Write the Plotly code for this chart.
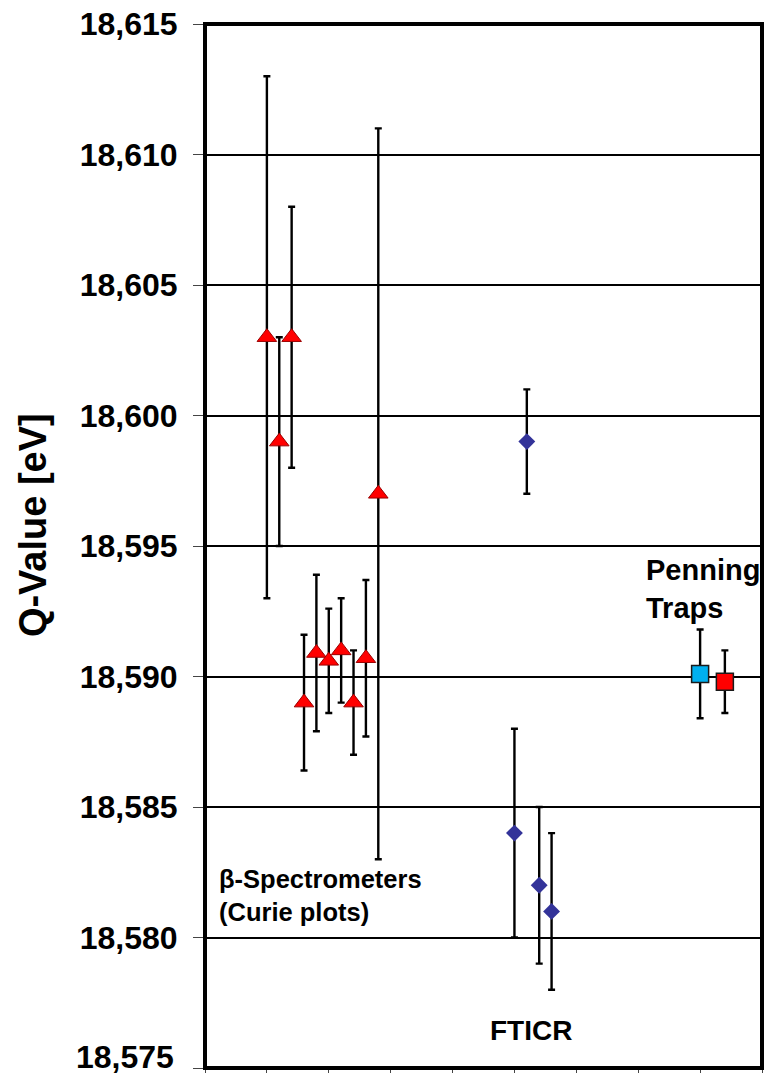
import plotly.graph_objects as go

# beta-spectrometer (Curie plot) results
beta_x = [1.0, 1.2, 1.4, 1.6, 1.8, 2.0, 2.2, 2.4, 2.6, 2.8]
beta_q = [18603.0, 18599.0, 18603.0, 18589.0, 18590.9, 18590.6, 18591.0, 18589.0, 18590.7, 18597.0]
beta_err = [10.0, 4.0, 5.0, 2.6, 3.0, 2.0, 2.0, 2.0, 3.0, 14.0]

# FTICR results
fticr_x = [5.0, 5.2, 5.4, 5.6]
fticr_q = [18584.0, 18599.0, 18582.0, 18581.0]
fticr_err = [4.0, 2.0, 3.0, 3.0]

# Penning trap results
penning_x = [8.0, 8.4]
penning_q = [18590.1, 18589.8]
penning_err = [1.7, 1.2]
penning_colors = ["#00B0F0", "#FF0000"]

y_ticks = [18575, 18580, 18585, 18590, 18595, 18600, 18605, 18610, 18615]
y_min, y_max = y_ticks[0], y_ticks[-1]

FONT = "Arial, Liberation Sans, sans-serif"

def bold(size):
    return dict(family=FONT, size=size, color="black", weight="bold")

def err(values):
    return dict(type="data", array=values, visible=True,
                color="black", thickness=2.4, width=3.5)

fig = go.Figure()

fig.add_trace(go.Scatter(
    x=beta_x, y=beta_q, mode="markers", error_y=err(beta_err),
    marker=dict(symbol="triangle-up", size=17, color="#FF0000",
                line=dict(color="#990000", width=1)),
    showlegend=False))

fig.add_trace(go.Scatter(
    x=fticr_x, y=fticr_q, mode="markers", error_y=err(fticr_err),
    marker=dict(symbol="diamond", size=13, color="#333399",
                line=dict(color="#333399", width=0)),
    showlegend=False))

fig.add_trace(go.Scatter(
    x=penning_x, y=penning_q, mode="markers", error_y=err(penning_err),
    marker=dict(symbol="square", size=17, color=penning_colors,
                line=dict(color="#1a1a1a", width=1.5)),
    showlegend=False))

fig.update_xaxes(
    range=[0, 9], tickvals=list(range(10)), showticklabels=False,
    ticks="outside", ticklen=4, tickwidth=1, tickcolor="#444",
    showgrid=False, zeroline=False, showline=False, automargin=False)

# the lowest label is lifted to stay inside the page, so it is drawn separately
fig.update_yaxes(
    range=[y_min, y_max], tickvals=y_ticks,
    ticktext=["" if v == y_min else f"{v:,}" for v in y_ticks],
    ticks="outside", ticklen=11, tickwidth=1, tickcolor="#444",
    ticklabelstandoff=9, ticklabeloverflow="allow", automargin=False,
    tickfont=bold(32),
    showgrid=True, gridcolor="black", gridwidth=2,
    zeroline=False, showline=False)

fig.add_annotation(xref="paper", yref="paper", x=0, y=0, xshift=-29, yshift=11,
                   text=f"{y_min:,}", showarrow=False,
                   xanchor="right", yanchor="middle", font=bold(32))

# plot-area frame
fig.add_shape(type="rect", xref="paper", yref="paper", x0=0, x1=1, y0=0, y1=1,
              line=dict(color="black", width=4), layer="above")

fig.add_annotation(x=0.2, y=18581.6, text="β-Spectrometers<br>(Curie plots)",
                   showarrow=False, xanchor="left", align="left", font=bold(25.5))
fig.add_annotation(x=5.27, y=18576.45, text="FTICR",
                   showarrow=False, xanchor="center", font=bold(28))
fig.add_annotation(x=7.09, y=18593.35, text="Penning<br>Traps",
                   showarrow=False, xanchor="left", align="left", font=bold(29))

# y-axis title
fig.add_annotation(xref="paper", yref="paper", x=0, y=0.52, xshift=-172,
                   text="Q-Value [eV]", textangle=-90, showarrow=False,
                   xanchor="center", yanchor="middle", font=bold(38))

fig.update_layout(
    width=765, height=1083,
    margin=dict(l=205, r=3, t=24, b=15, autoexpand=False),
    paper_bgcolor="white", plot_bgcolor="white")

fig.write_html("out.html")
